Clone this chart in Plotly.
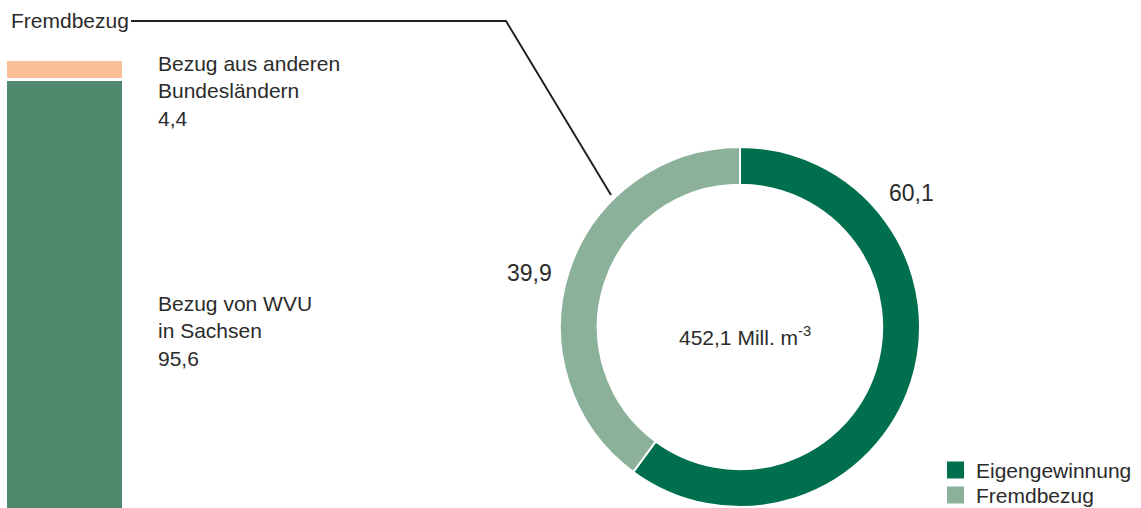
import plotly.graph_objects as go

W, H = 1141, 508

# Wasseraufkommen nach Herkunft (Prozent)
herkunft = ["Eigengewinnung", "Fremdbezug"]
herkunft_anteil = [60.1, 39.9]
herkunft_farben = ["#006f4e", "#8cb19b"]

# Aufgliederung des Fremdbezugs (Prozent)
fremd_teile = ["Bezug von WVU in Sachsen", "Bezug aus anderen Bundesländern"]
fremd_anteil = [95.6, 4.4]
fremd_farben = ["#4f8a6e", "#f8bf98"]
fremd_zeilen = [["Bezug von WVU", "in Sachsen"], ["Bezug aus anderen", "Bundesländern"]]

gesamt = "452,1"

FONT = "Liberation Sans"
TXT = "#2b2b2b"


def de(v):
    return f"{v:.1f}".replace(".", ",")


fig = go.Figure()

# Ring: Eigengewinnung / Fremdbezug
fig.add_trace(go.Pie(
    labels=herkunft,
    values=herkunft_anteil,
    marker=dict(colors=herkunft_farben, line=dict(color="white", width=2)),
    hole=0.79,
    sort=False,
    direction="clockwise",
    rotation=0,
    textinfo="none",
    hoverinfo="label+value",
    showlegend=False,
    domain=dict(x=[560 / W, 920 / W], y=[1 / H, 361 / H]),
))

# Gestapelte Säule für den Fremdbezug
for name, val, col in zip(fremd_teile, fremd_anteil, fremd_farben):
    fig.add_trace(go.Bar(
        x=[0], y=[val], name=name, width=1,
        marker=dict(color=col, line=dict(color="white", width=3)),
        xaxis="x", yaxis="y", showlegend=False,
    ))

annotations = []
shapes = []

# Beschriftung der Säulenabschnitte
lh = 27.5
for lines, val, top in [(fremd_zeilen[1], fremd_anteil[1], 63), (fremd_zeilen[0], fremd_anteil[0], 303)]:
    for i, t in enumerate(lines + [de(val)]):
        annotations.append(dict(
            x=156 / W, y=1 - (top + i * lh) / H, xref="paper", yref="paper",
            xanchor="left", yanchor="middle", text=t, showarrow=False,
            font=dict(family=FONT, size=21, color=TXT),
        ))

# Werte am Ring
annotations.append(dict(x=911 / W, y=1 - 193 / H, xref="paper", yref="paper",
                        xanchor="center", yanchor="middle",
                        text=de(herkunft_anteil[0]), showarrow=False,
                        font=dict(family=FONT, size=23, color=TXT)))
annotations.append(dict(x=529 / W, y=1 - 273 / H, xref="paper", yref="paper",
                        xanchor="center", yanchor="middle",
                        text=de(herkunft_anteil[1]), showarrow=False,
                        font=dict(family=FONT, size=23, color=TXT)))

# Summe in der Mitte
annotations.append(dict(x=745 / W, y=1 - 336 / H, xref="paper", yref="paper",
                        xanchor="center", yanchor="middle",
                        text=f"{gesamt} Mill. m<sup>-3</sup>", showarrow=False,
                        font=dict(family=FONT, size=21, color=TXT)))

# Überschrift der Säule
annotations.append(dict(x=9 / W, y=1 - 20 / H, xref="paper", yref="paper",
                        xanchor="left", yanchor="middle", text="Fremdbezug",
                        showarrow=False, font=dict(family=FONT, size=21, color=TXT)))

# Verbindungslinie vom Ringsegment zur Säulenüberschrift
shapes.append(dict(
    type="path", xref="paper", yref="paper",
    path=f"M {131 / W} {1 - 21 / H} L {506 / W} {1 - 21 / H} L {611 / W} {1 - 195 / H}",
    line=dict(color="#222222", width=2),
))

# Legende (Quadrat + Text)
for i, (lab, col) in enumerate(zip(herkunft, herkunft_farben)):
    yc = 470 + i * 25
    shapes.append(dict(
        type="rect", xref="paper", yref="paper",
        x0=947 / W, x1=964 / W, y0=1 - (yc - 8.5) / H, y1=1 - (yc + 8.5) / H,
        fillcolor=col, line=dict(width=0),
    ))
    annotations.append(dict(x=974 / W, y=1 - yc / H, xref="paper", yref="paper",
                            xanchor="left", yanchor="middle", text=lab,
                            showarrow=False, font=dict(family=FONT, size=21, color=TXT)))

fig.update_layout(
    width=W, height=H,
    margin=dict(l=0, r=0, t=0, b=0),
    paper_bgcolor="white", plot_bgcolor="white",
    barmode="stack", bargap=0,
    xaxis=dict(domain=[6 / W, 124 / W], range=[-0.5, 0.5], visible=False, fixedrange=True),
    yaxis=dict(domain=[0, (H - 60) / H], range=[0.7, 100], visible=False, fixedrange=True),
    annotations=annotations,
    shapes=shapes,
    showlegend=False,
)

fig.write_html("out.html")
